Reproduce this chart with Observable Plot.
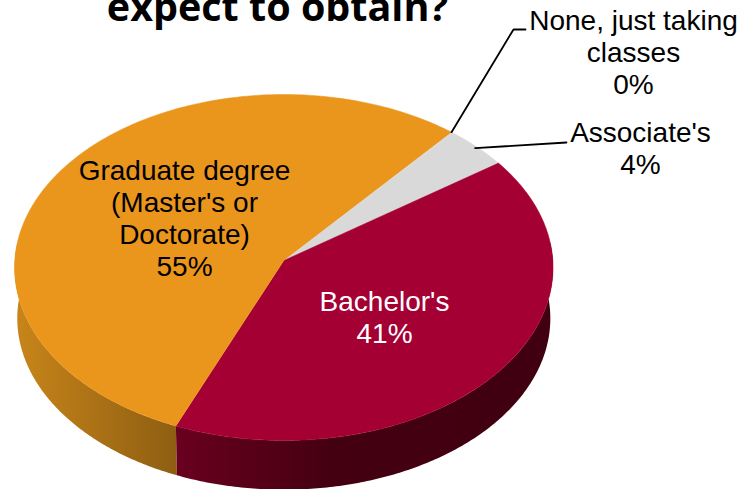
<!DOCTYPE html>
<html>
<head>
<meta charset="utf-8">
<script src="https://cdn.jsdelivr.net/npm/d3@7"></script>
<script src="https://cdn.jsdelivr.net/npm/@observablehq/plot@0.6"></script>
<style>
html,body{margin:0;padding:0;background:#fff;overflow:hidden}
svg{display:block}
</style>
</head>
<body>
<div id="chart"></div>
<script>
// Data (clockwise, starting from the top of the rotated pie)
const categories = ["None, just taking\nclasses", "Associate's", "Bachelor's", "Graduate degree\n(Master's or\nDoctorate)"];
const shares = [0.1, 4, 41.1, 54.8];
const sliceColors = ["#d9d9d9", "#d9d9d9", "#a50034", "#ea961c"];

// Presentation constants
const W = 744, H = 489;
const view = {cx: 283.3, cy: 260, rx: 269, ry: 172.7, persp: 0.0404, depth: 51, shrink: 0.99, rotation: 40};
const labelLayout = [
  {x: 633, y: 51.5, ink: "#000"},
  {x: 640, y: 147.5, ink: "#000"},
  {x: 384, y: 316.5, ink: "#fff"},
  {x: 184, y: 217.5, ink: "#000"}
];
const wallStops = {
  "Bachelor's": [[177, "#69001f"], [330, "#440011"], [553, "#400011"]],
  "Graduate degree\n(Master's or\nDoctorate)": [[14, "#c8851a"], [177, "#8e5e12"]]
};

// Perspective projection of a point on the pie rim
function project(deg, lower = false, radius = 1) {
  const a = deg * Math.PI / 180;
  const X = Math.sin(a) * radius, Z = Math.cos(a) * radius;
  const s = 1 / (1 + view.persp * Z) * (lower ? view.shrink : 1);
  return {
    x: view.cx + view.rx * X * s,
    y: view.cy + (lower ? view.depth : 0) - view.ry * Z * s
  };
}
const total = d3.sum(shares);
let acc = view.rotation;
const slices = categories.map((name, i) => {
  const start = acc;
  acc += shares[i] / total * 360;
  return {name, value: shares[i], start, end: acc, color: sliceColors[i], ...labelLayout[i]};
});
const bySweep = (a, b, n = 180) => d3.range(n + 1).map(i => a + (b - a) * i / n);

const topFace = s => [{x: view.cx, y: view.cy}, ...bySweep(s.start, s.end).map(d => project(d))];
const wall = (from, to) => [
  ...bySweep(from, to).map(d => project(d)),
  ...bySweep(to, from).map(d => project(d, true))
];

const bachelor = slices[2], graduate = slices[3];
const gradientDefs = () => {
  const defs = d3.create("svg:defs");
  [["wallB", bachelor.name], ["wallG", graduate.name]].forEach(([id, key]) => {
    const stops = wallStops[key];
    const g = defs.append("linearGradient").attr("id", id).attr("gradientUnits", "userSpaceOnUse")
      .attr("x1", stops[0][0]).attr("x2", stops[stops.length - 1][0]).attr("y1", 0).attr("y2", 0);
    stops.forEach(([x, c]) => g.append("stop")
      .attr("offset", (x - stops[0][0]) / (stops[stops.length - 1][0] - stops[0][0])).attr("stop-color", c));
  });
  return defs.node();
};

const lineFont = {fontFamily: "'Liberation Sans', Arial, sans-serif", fontSize: 28, lineHeight: 1.145};
const labelText = s => `${s.name}\n${Math.round(s.value)}%`;

// leader lines start on the pie's rim, end beside their labels
const leaderNone = [project(slices[0].start), {x: 513, y: 29}, {x: 525, y: 29}];
const leaderAssoc = [project((slices[1].start + slices[1].end) / 2, false, 0.99), {x: 566, y: 142}];

const chart = Plot.plot({
  width: W, height: H,
  margin: 0,
  x: {domain: [0, W], range: [0, W], axis: null},
  y: {domain: [0, H], range: [0, H], axis: null},
  style: {background: "#fff", overflow: "hidden"},
  marks: [
    gradientDefs,
    Plot.line(wall(graduate.start, 276), {x: "x", y: "y", fill: "url(#wallG)", stroke: "none"}),
    Plot.line(wall(84, bachelor.end), {x: "x", y: "y", fill: "url(#wallB)", stroke: "none"}),
    ...slices.map(s =>
      Plot.line(topFace(s), {x: "x", y: "y", fill: s.color, stroke: s.color, strokeWidth: 0.5})),
    Plot.line(leaderNone, {x: "x", y: "y", stroke: "#000", strokeWidth: 1.8}),
    Plot.line(leaderAssoc, {x: "x", y: "y", stroke: "#000", strokeWidth: 1.8}),
    Plot.text(slices, {x: "x", y: "y", text: labelText, fill: "ink", ...lineFont}),
    Plot.text(["expect to obtain?"], {
      x: () => 277, y: () => 20, text: d => d, lineAnchor: "bottom",
      fontFamily: "'Open Sans', 'Noto Sans', sans-serif", fontWeight: 700, fontSize: 39.5, fill: "#000"
    })
  ]
});
document.getElementById("chart").append(chart);
</script>
</body>
</html>
